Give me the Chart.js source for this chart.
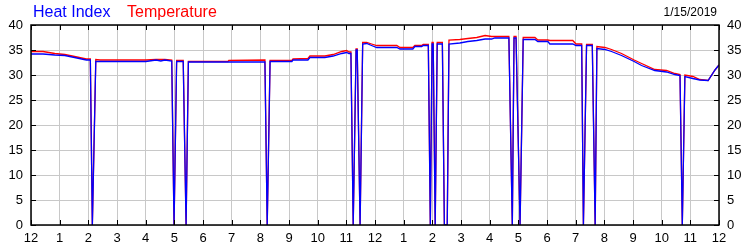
<!DOCTYPE html>
<html><head><meta charset="utf-8">
<script src="https://cdn.jsdelivr.net/npm/chart.js@4"></script>
<style>
html,body{margin:0;padding:0;background:#fff;}
#wrap{position:relative;width:750px;height:250px;overflow:hidden;}
canvas{position:absolute;left:0;top:0;}
.lg{position:absolute;font-family:"Liberation Sans",Arial,sans-serif;white-space:nowrap;line-height:1;}
</style></head><body>
<div id="wrap">
<canvas id="c" width="750" height="250"></canvas>
<div class="lg" id="lg1" style="left:33px;top:4px;font-size:16px;color:#0000ff">Heat Index</div>
<div class="lg" id="lg2" style="left:127px;top:4px;font-size:16px;color:#ff0000">Temperature</div>
<div class="lg" id="dt" style="right:33px;top:6px;font-size:12px;color:#000">1/15/2019</div>
</div>
<script>
// time in hours since midnight (0..24)
const hours = [
  0.00, 0.42, 0.83, 1.18, 1.52, 1.93, 2.07, 2.14, 2.26, 2.41,
  3.27, 4.01, 4.36, 4.53, 4.67, 4.91, 4.99, 5.08, 5.31, 5.41,
  5.49, 6.87, 6.90, 8.16, 8.24, 8.34, 9.10, 9.14, 9.66, 9.73,
  10.25, 10.54, 10.84, 11.01, 11.09, 11.16, 11.24, 11.34, 11.38, 11.48,
  11.57, 11.71, 11.88, 12.06, 12.76, 12.87, 13.32, 13.39, 13.63, 13.68,
  13.86, 13.93, 13.99, 14.03, 14.10, 14.17, 14.35, 14.42, 14.52, 14.58,
  14.96, 15.24, 15.55, 15.84, 16.07, 16.18, 16.67, 16.79, 16.85, 16.92,
  17.06, 17.17, 17.58, 17.68, 18.03, 18.10, 18.90, 19.01, 19.21, 19.27,
  19.38, 19.58, 19.68, 19.74, 20.02, 20.25, 20.60, 21.04, 21.30, 21.76,
  22.17, 22.46, 22.64, 22.72, 22.81, 23.09, 23.33, 23.62, 23.86, 24.00
];
const temperature = [
  34.7, 34.7, 34.3, 34.1, 33.7, 33.2, 33.2, 0, 33.1, 33.0,
  33.0, 33.0, 33.1, 33.1, 33.1, 33.0, 0, 32.9, 32.9, 0,
  32.7, 32.7, 32.9, 33.0, 0, 32.9, 32.9, 33.2, 33.3, 33.8,
  33.8, 34.1, 34.7, 34.9, 34.6, 34.6, 0, 35.2, 35.2, 0,
  36.5, 36.5, 36.2, 35.9, 35.9, 35.5, 35.5, 35.9, 35.9, 36.1,
  36.1, 0, 36.5, 36.5, 0, 36.5, 36.5, 0, 0, 37.0,
  37.1, 37.3, 37.5, 37.9, 37.7, 37.7, 37.7, 0, 37.7, 37.7,
  0, 37.5, 37.5, 37.0, 37.0, 36.9, 36.9, 36.2, 36.2, 0,
  36.1, 36.1, 0, 35.7, 35.5, 35.1, 34.3, 33.0, 32.3, 31.1,
  30.9, 30.3, 30.1, 0, 30.0, 29.7, 29.1, 28.9, 31.0, 32.0
];
const heatIndex = [
  34.2, 34.2, 34.0, 33.9, 33.5, 33.0, 33.0, 0, 32.7, 32.7,
  32.7, 32.7, 33.0, 32.8, 33.0, 32.8, 0, 32.7, 32.7, 0,
  32.6, 32.6, 32.6, 32.6, 0, 32.7, 32.7, 33.0, 33.0, 33.5,
  33.5, 33.8, 34.3, 34.5, 34.3, 34.3, 0, 35.0, 35.0, 0,
  36.2, 36.3, 35.9, 35.5, 35.5, 35.2, 35.2, 35.7, 35.7, 35.9,
  35.9, 0, 36.2, 36.2, 0, 36.2, 36.2, 0, 0, 36.2,
  36.4, 36.7, 36.9, 37.2, 37.2, 37.4, 37.4, 0, 37.4, 37.4,
  0, 37.1, 37.1, 36.7, 36.7, 36.2, 36.2, 35.9, 35.9, 0,
  35.9, 35.9, 0, 35.3, 35.1, 34.7, 33.9, 32.7, 31.9, 30.9,
  30.6, 30.1, 29.9, 0, 29.7, 29.3, 29.0, 28.9, 31.0, 32.0
];
const hourTickLabels = ['12','1','2','3','4','5','6','7','8','9','10','11',
                        '12','1','2','3','4','5','6','7','8','9','10','11','12'];
const seriesNames = ['Heat Index', 'Temperature'];
const seriesColors = ['#0000ff', '#ff0000'];

const FONT = '"Liberation Sans", Arial, sans-serif';

const framePlugin = {
  id: 'frame',
  afterDraw(chart) {
    const {ctx, chartArea: a, scales} = chart;
    ctx.save();
    ctx.strokeStyle = '#000';
    ctx.lineWidth = 1;
    // inward tick marks
    ctx.beginPath();
    scales.x.ticks.forEach(t => {
      const px = Math.round(scales.x.getPixelForValue(t.value)) + 0.5;
      ctx.moveTo(px, a.top); ctx.lineTo(px, a.top + 5);
      ctx.moveTo(px, a.bottom); ctx.lineTo(px, a.bottom - 5);
    });
    scales.y.ticks.forEach(t => {
      const py = Math.round(scales.y.getPixelForValue(t.value)) + 0.5;
      ctx.moveTo(a.left, py); ctx.lineTo(a.left + 5, py);
      ctx.moveTo(a.right, py); ctx.lineTo(a.right - 5, py);
    });
    ctx.stroke();
    ctx.lineWidth = 1.5;
    ctx.strokeRect(a.left, a.top, a.right - a.left, a.bottom - a.top);
    ctx.restore();
  }
};

const tickFont = {family: FONT, size: 13};

new Chart(document.getElementById('c'), {
  type: 'line',
  data: {
    datasets: [0, 1].map(k => ({
      label: seriesNames[k],
      data: hours.map((h, i) => ({x: h, y: (k === 0 ? heatIndex : temperature)[i]})),
      borderColor: seriesColors[k],
      borderWidth: 1.3,
      pointRadius: 0,
      tension: 0,
      fill: false
    }))
  },
  options: {
    responsive: false,
    animation: false,
    devicePixelRatio: 1,
    layout: {padding: {top: 25, left: 0, right: 0, bottom: 0}},
    plugins: {legend: {display: false}, tooltip: {enabled: false}},
    scales: {
      x: {
        type: 'linear', min: 0, max: 24, position: 'bottom',
        ticks: {stepSize: 1, autoSkip: false, maxRotation: 0, padding: 6, color: '#000', font: tickFont,
                callback: v => hourTickLabels[Math.round(v)]},
        grid: {color: '#c8c8c8', lineWidth: 1, drawTicks: false},
        border: {display: false},
        afterFit: s => { s.height = 25; }
      },
      y: {
        min: 0, max: 40, position: 'left',
        ticks: {stepSize: 5, padding: 8, color: '#000', font: tickFont},
        grid: {color: '#c8c8c8', lineWidth: 1, drawTicks: false},
        border: {display: false},
        afterFit: s => { s.width = 31; }
      },
      y2: {
        min: 0, max: 40, position: 'right',
        ticks: {stepSize: 5, padding: 8, color: '#000', font: tickFont},
        grid: {drawOnChartArea: false, drawTicks: false},
        border: {display: false},
        afterFit: s => { s.width = 31; }
      }
    }
  },
  plugins: [framePlugin]
});
</script>
</body></html>
